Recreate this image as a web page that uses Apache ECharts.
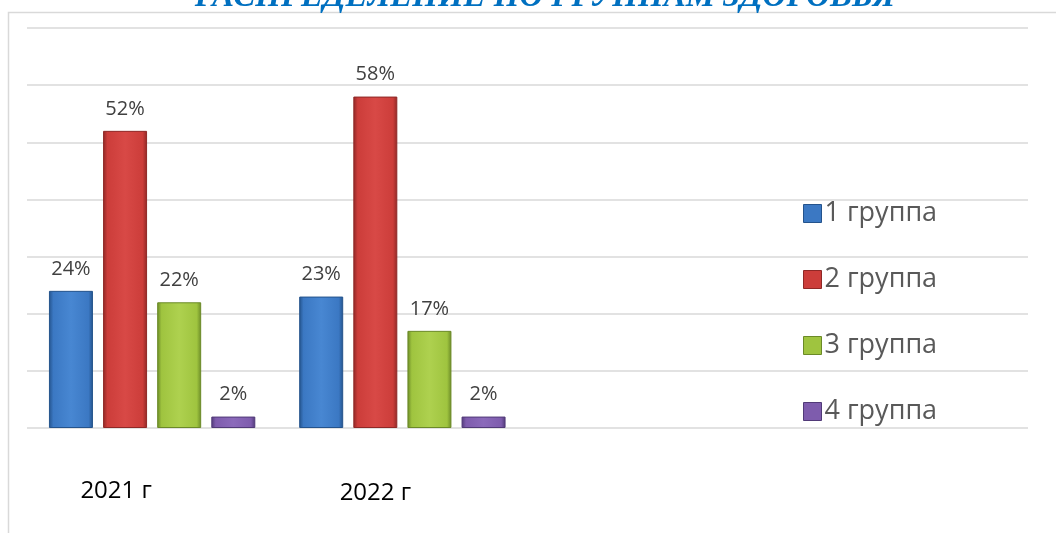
<!DOCTYPE html>
<html>
<head>
<meta charset="utf-8">
<script src="https://cdn.jsdelivr.net/npm/echarts@6/dist/echarts.min.js"></script>
<style>
html,body{margin:0;padding:0;background:#fff;}
#chart{width:1056px;height:533px;}
</style>
</head>
<body>
<div id="chart"></div>
<script>
const titleText = 'РАСПРЕДЕЛЕНИЕ ПО ГРУППАМ ЗДОРОВЬЯ';
const categories = ['2021 г', '2022 г', '', ''];
const seriesNames = ['1 группа', '2 группа', '3 группа', '4 группа'];
const group1 = [24, 23];
const group2 = [52, 58];
const group3 = [22, 17];
const group4 = [2, 2];
const seriesValues = [group1, group2, group3, group4];

const palette = [
  {base: '#3b78c3', light: '#4887d2', dark: '#24538c'},
  {base: '#cc3d3a', light: '#d84946', dark: '#8f2826'},
  {base: '#9fc43f', light: '#aed14f', dark: '#6b8a27'},
  {base: '#7e5cad', light: '#8b6aba', dark: '#513a78'}
];

function barColor(p) {
  return new echarts.graphic.LinearGradient(0, 0, 1, 0, [
    {offset: 0, color: p.dark},
    {offset: 0.1, color: p.base},
    {offset: 0.5, color: p.light},
    {offset: 0.9, color: p.base},
    {offset: 1, color: p.dark}
  ]);
}

const chart = echarts.init(document.getElementById('chart'));
const option = {
  backgroundColor: '#ffffff',
  animation: false,
  graphic: [
    {
      type: 'rect',
      shape: {x: 8.5, y: 12.5, width: 1200, height: 700},
      style: {fill: 'none', stroke: '#d9d9d9', lineWidth: 1.5},
      silent: true
    },
    {
      type: 'text',
      x: 545,
      y: 14,
      style: {
        text: titleText,
        fill: '#0070c0',
        font: 'italic bold 33px "Liberation Serif", "DejaVu Serif", serif',
        align: 'center',
        verticalAlign: 'bottom'
      },
      silent: true
    }
  ],
  grid: {left: 27, right: 28, top: 28, bottom: 105, containLabel: false},
  legend: {
    orient: 'vertical',
    left: 798,
    top: 195,
    itemWidth: 18,
    itemHeight: 18,
    itemGap: 39,
    icon: 'rect',
    textStyle: {fontFamily: 'Open Sans', fontSize: 27, color: '#595959', padding: [0, 0, 0, -2]}
  },
  xAxis: {
    type: 'category',
    data: categories,
    axisLine: {show: false},
    axisTick: {show: false},
    axisLabel: {
      margin: 51,
      fontFamily: 'Open Sans',
      fontSize: 24,
      color: '#000000',
      formatter: function (v, i) { return i === 0 ? '{a|' + v + '}' : '{b|' + v + '}'; },
      rich: {
        a: {fontFamily: 'Open Sans', fontSize: 24, color: '#000', padding: [0, 72, 0, 0]},
        b: {fontFamily: 'Open Sans', fontSize: 24, color: '#000', padding: [2, 54, 0, 0]}
      }
    }
  },
  yAxis: {
    type: 'value',
    min: 0,
    max: 70,
    interval: 10,
    axisLabel: {show: false},
    axisLine: {show: false},
    axisTick: {show: false},
    splitLine: {lineStyle: {color: '#d9d9d9', width: 1.5}}
  },
  series: seriesValues.map(function (vals, k) {
    return {
      name: seriesNames[k],
      type: 'bar',
      data: vals,
      barWidth: 44,
      barGap: '23%',
      itemStyle: {color: barColor(palette[k]), borderColor: palette[k].dark, borderWidth: 1},
      label: {
        show: true,
        position: 'top',
        distance: 12,
        formatter: '{c}%',
        fontFamily: 'Open Sans',
        fontSize: 20,
        color: '#404040'
      }
    };
  })
};
option.legend.data = seriesNames.map(function (n, k) {
  return {name: n, itemStyle: {color: palette[k].base, borderColor: palette[k].dark, borderWidth: 1}};
});
chart.setOption(option);
</script>
</body>
</html>
